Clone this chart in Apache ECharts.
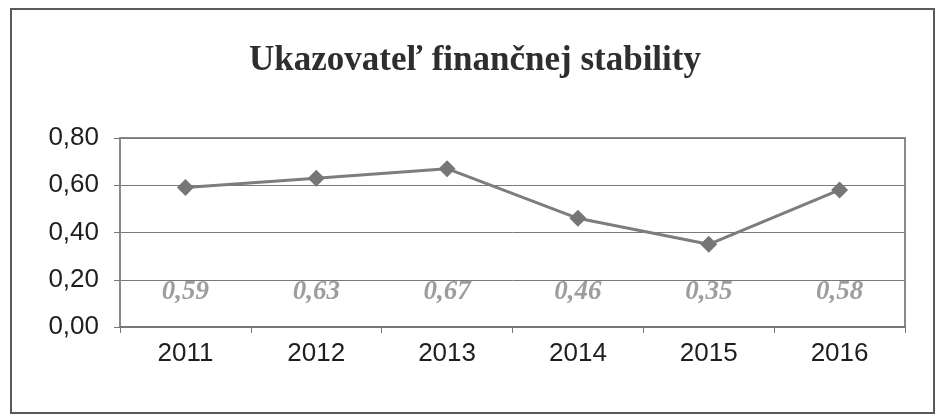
<!DOCTYPE html>
<html>
<head>
<meta charset="utf-8">
<script src="https://cdn.jsdelivr.net/npm/echarts@6/dist/echarts.min.js"></script>
<style>
  html, body { margin: 0; padding: 0; background: #ffffff; }
  #frame {
    position: absolute; left: 10px; top: 8px; width: 925px; height: 406px;
    border: 2px solid #5a5a5a; box-sizing: border-box;
  }
  #chart { width: 938px; height: 416px; }
</style>
</head>
<body>
<div id="frame"></div>
<div id="chart"></div>
<script>
const years = ["2011", "2012", "2013", "2014", "2015", "2016"];
const stability = [0.59, 0.63, 0.67, 0.46, 0.35, 0.58];
const yTicks = [0, 0.2, 0.4, 0.6, 0.8];

// Slovak decimal comma
function fmt(v) {
  return Number(v).toFixed(2).replace(".", ",");
}

const chart = echarts.init(document.getElementById("chart"));

chart.setOption({
  animation: false,
  title: {
    text: "Ukazovateľ finančnej stability",
    left: 470,
    textAlign: "center",
    top: 38,
    textStyle: {
      fontFamily: "Liberation Serif",
      fontWeight: "bold",
      fontSize: 35,
      color: "#2e2e2e",
    },
  },
  grid: { left: 120, right: 33, top: 138, bottom: 89, show: true, borderColor: "#8a8a8a", borderWidth: 2 },
  xAxis: {
    type: "category",
    data: years,
    boundaryGap: true,
    axisLine: { lineStyle: { color: "#777777", width: 2 } },
    axisTick: { show: true, length: 6, lineStyle: { color: "#777777" } },
    axisLabel: {
      color: "#1e1e1e",
      fontFamily: "Liberation Sans",
      fontSize: 26,
      margin: 14,
    },
  },
  yAxis: {
    type: "value",
    min: yTicks[0],
    max: yTicks[yTicks.length - 1],
    interval: 0.2,
    axisLine: { show: true, lineStyle: { color: "#8a8a8a", width: 2 } },
    axisTick: { show: true, length: 6, lineStyle: { color: "#777777" } },
    axisLabel: {
      color: "#1e1e1e",
      fontFamily: "Liberation Sans",
      fontSize: 26,
      margin: 21,
      formatter: fmt,
    },
    splitLine: { lineStyle: { color: "#7a7a7a", width: 1 } },
  },
  series: [
    {
      type: "line",
      data: stability,
      symbol: "diamond",
      symbolSize: 17,
      lineStyle: { color: "#7d7d7d", width: 3 },
      itemStyle: { color: "#767676" },
    },
    {
      // value labels drawn in a row near the bottom of the plot
      type: "scatter",
      data: stability.map((v, i) => [i, 0.15]),
      symbolSize: 0,
      silent: true,
      label: {
        show: true,
        position: "inside",
        formatter: (p) => fmt(stability[p.dataIndex]),
        fontFamily: "Liberation Serif",
        fontStyle: "italic",
        fontWeight: "bold",
        fontSize: 27,
        color: "#858585",
      },
    },
  ],
});
</script>
</body>
</html>
